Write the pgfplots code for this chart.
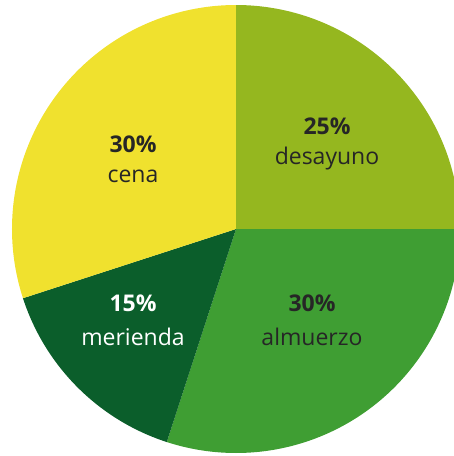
\documentclass[border=0pt]{standalone}
\usepackage{pgfplots}
\pgfplotsset{compat=1.18}
\usepgfplotslibrary{polar}
\usepackage{fontspec}
\setmainfont{Open Sans}
\definecolor{cdes}{HTML}{95B71F}
\definecolor{calm}{HTML}{3F9E33}
\definecolor{cmer}{HTML}{0B5E2B}
\definecolor{ccen}{HTML}{F0E12E}
\definecolor{ctxt}{HTML}{262626}
\begin{document}
\begin{tikzpicture}
\begin{polaraxis}[hide axis, scale only axis, width=224pt, height=224pt,
  ymin=0, ymax=1, xmin=0, xmax=360, clip=false]
% desayuno 25% -> 90 deg, almuerzo 30% -> 108 deg, merienda 15% -> 54 deg, cena 30% -> 108 deg
\addplot[fill=cdes, draw=none, domain=0:90, samples=91] {1} -- (axis cs:0,0) -- cycle;
\addplot[fill=calm, draw=none, domain=-108:0, samples=109] {1} -- (axis cs:0,0) -- cycle;
\addplot[fill=cmer, draw=none, domain=-162:-108, samples=55] {1} -- (axis cs:0,0) -- cycle;
\addplot[fill=ccen, draw=none, domain=90:198, samples=109] {1} -- (axis cs:0,0) -- cycle;
\coordinate (O) at (axis cs:0,0);
\end{polaraxis}
\pgfresetboundingbox
\path[use as bounding box] ([shift={(-118pt,-113.5pt)}]O) rectangle ([shift={(109pt,114.5pt)}]O);
\begin{scope}[every node/.style={font=\fontsize{11.5}{14}\selectfont, anchor=base, inner sep=0pt}]
\node[text=ctxt] at ([shift={(-51.5pt,38pt)}]O) {\bfseries 30\%};
\node[text=ctxt] at ([shift={(-51.5pt,23pt)}]O) {cena};
\node[text=ctxt] at ([shift={(45.5pt,47pt)}]O) {\bfseries 25\%};
\node[text=ctxt] at ([shift={(45.5pt,32pt)}]O) {desayuno};
\node[text=white] at ([shift={(-51.5pt,-41.5pt)}]O) {\bfseries 15\%};
\node[text=white] at ([shift={(-51.5pt,-58pt)}]O) {merienda};
\node[text=ctxt] at ([shift={(38pt,-41.5pt)}]O) {\bfseries 30\%};
\node[text=ctxt] at ([shift={(38pt,-58pt)}]O) {almuerzo};
\end{scope}
\end{tikzpicture}
\end{document}
